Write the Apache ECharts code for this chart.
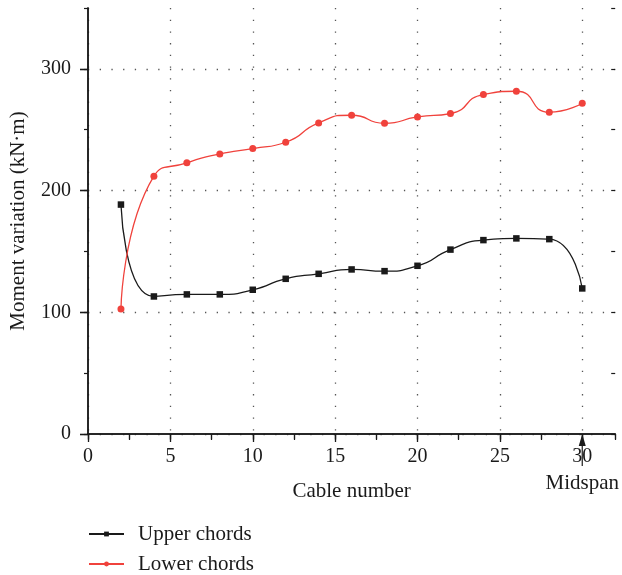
<!DOCTYPE html>
<html>
<head>
<meta charset="utf-8">
<script src="https://cdn.jsdelivr.net/npm/echarts@6/dist/echarts.min.js"></script>
<style>
  html, body { margin: 0; padding: 0; background: #fff; }
  #chart { width: 622px; height: 575px; }
</style>
</head>
<body>
<div id="chart"></div>
<script>
// Cable positions along the span (cable 30 = midspan)
const cableNo = [2, 4, 6, 8, 10, 12, 14, 16, 18, 20, 22, 24, 26, 28, 30];
// Moment variation, kN·m
const upperChords = [188.5, 113, 114.7, 114.7, 118.5, 127.5, 131.6, 135.2, 133.8, 138.2, 151.5, 159.3, 160.7, 160.1, 119.6];
const lowerChords = [102.6, 211.8, 222.8, 230.1, 234.5, 239.7, 255.6, 261.9, 255.3, 260.5, 263.3, 278.9, 281.6, 264.4, 271.8];
// Axis ticks
const xMajorTicks = [0, 5, 10, 15, 20, 25, 30];
const yMajorTicks = [0, 100, 200, 300];

const FONT = 'Liberation Serif';
const INK = '#1a1a1a';
const RED = '#f0423c';
const dotted = { color: '#555', width: 1.3, type: [1.3, 10.4] };

const chart = echarts.init(document.getElementById('chart'), null, { renderer: 'canvas' });

const toPairs = ys => cableNo.map((x, i) => [x, ys[i]]);

const option = {
  animation: false,
  backgroundColor: '#fff',
  textStyle: { fontFamily: FONT },
  grid: { left: 88, right: 6, top: 8, bottom: 141, containLabel: false },
  legend: {
    orient: 'vertical',
    left: 88,
    top: 523,
    padding: 0,
    itemWidth: 35,
    itemHeight: 6,
    itemGap: 8,
    textStyle: { fontFamily: FONT, fontSize: 21, color: INK, lineHeight: 22, padding: [0, 0, 0, 9] },
    data: ['Upper chords', 'Lower chords']
  },
  xAxis: [
    {
      type: 'value', position: 'bottom', min: 0, max: 32, interval: 5,
      name: 'Cable number', nameLocation: 'middle', nameGap: 47, nameMoveOverlap: false,
      nameTextStyle: { fontFamily: FONT, fontSize: 21, color: INK },
      axisLine: { show: true, lineStyle: { color: INK, width: 1.5 } },
      axisTick: { show: true, inside: false, length: 8, customValues: xMajorTicks, lineStyle: { color: INK, width: 1.3 } },
      axisLabel: {
        customValues: xMajorTicks, margin: 13, fontFamily: FONT, fontSize: 20, color: INK,
        formatter: v => v === 30 ? '30\n{m|Midspan}' : String(v),
        rich: { m: { fontFamily: FONT, fontSize: 21, color: INK, padding: [6, 0, 0, 0] } }
      },
      splitLine: { show: true, lineStyle: dotted }
    },
    {
      // minor ticks under the bottom axis
      type: 'value', position: 'bottom', min: 0, max: 32, interval: 2.5,
      axisLine: { show: false },
      axisTick: { show: true, inside: false, length: 5, lineStyle: { color: INK, width: 1.2 } },
      axisLabel: { show: false },
      splitLine: { show: false }
    },
    {
      // top frame with inward ticks
      type: 'value', position: 'top', min: 0, max: 32, interval: 2.5,
      axisLine: { show: true, lineStyle: { color: INK, width: 1.5 } },
      axisTick: { show: true, inside: true, length: 6, lineStyle: { color: INK, width: 1.2 } },
      axisLabel: { show: false },
      splitLine: { show: false }
    }
  ],
  yAxis: [
    {
      type: 'value', position: 'left', min: 0, max: 350, interval: 50,
      name: 'Moment variation (kN·m)', nameLocation: 'middle', nameGap: 59, nameMoveOverlap: false,
      nameTextStyle: { fontFamily: FONT, fontSize: 21, color: INK },
      axisLine: { show: true, lineStyle: { color: INK, width: 1.5 } },
      axisTick: { show: true, inside: false, length: 8, customValues: yMajorTicks, lineStyle: { color: INK, width: 1.3 } },
      axisLabel: { customValues: yMajorTicks, margin: 17, fontFamily: FONT, fontSize: 20, color: INK },
      splitLine: { show: true, lineStyle: dotted }
    },
    {
      // minor ticks on the left axis
      type: 'value', position: 'left', min: 0, max: 350, interval: 50,
      axisLine: { show: false },
      axisTick: { show: true, inside: false, length: 4, lineStyle: { color: INK, width: 1.2 } },
      axisLabel: { show: false },
      splitLine: { show: false }
    },
    {
      // right frame, major inward ticks
      type: 'value', position: 'right', min: 0, max: 350, interval: 50,
      axisLine: { show: true, lineStyle: { color: INK, width: 1.5 } },
      axisTick: { show: true, inside: true, length: 8, customValues: yMajorTicks, lineStyle: { color: INK, width: 1.3 } },
      axisLabel: { show: false },
      splitLine: { show: false }
    },
    {
      // right frame, minor inward ticks
      type: 'value', position: 'right', min: 0, max: 350, interval: 50,
      axisLine: { show: false },
      axisTick: { show: true, inside: true, length: 4, lineStyle: { color: INK, width: 1.2 } },
      axisLabel: { show: false },
      splitLine: { show: false }
    }
  ],
  series: [
    {
      name: 'Upper chords', type: 'line', xAxisIndex: 0, yAxisIndex: 0,
      data: toPairs(upperChords), smooth: 0.6,
      symbol: 'rect', symbolSize: 6.5,
      itemStyle: { color: INK },
      lineStyle: { color: INK, width: 1.3 },
      z: 3
    },
    {
      name: 'Lower chords', type: 'line', xAxisIndex: 0, yAxisIndex: 0,
      data: toPairs(lowerChords), smooth: 0.6,
      symbol: 'circle', symbolSize: 7,
      itemStyle: { color: RED },
      lineStyle: { color: RED, width: 1.3 },
      z: 4
    }
  ]
};

chart.setOption(option);

// Arrow marking the midspan cable, placed from the axis scale
const base = chart.convertToPixel({ xAxisIndex: 0, yAxisIndex: 0 }, [30, 0]);
chart.setOption({
  graphic: [
    {
      type: 'line', z: 100,
      shape: { x1: base[0], y1: base[1] + 10, x2: base[0], y2: base[1] + 32 },
      style: { stroke: INK, lineWidth: 1.2 }
    },
    {
      type: 'polygon', z: 100,
      shape: { points: [[base[0], base[1]], [base[0] - 3.5, base[1] + 12], [base[0] + 3.5, base[1] + 12]] },
      style: { fill: INK }
    }
  ]
});
</script>
</body>
</html>
